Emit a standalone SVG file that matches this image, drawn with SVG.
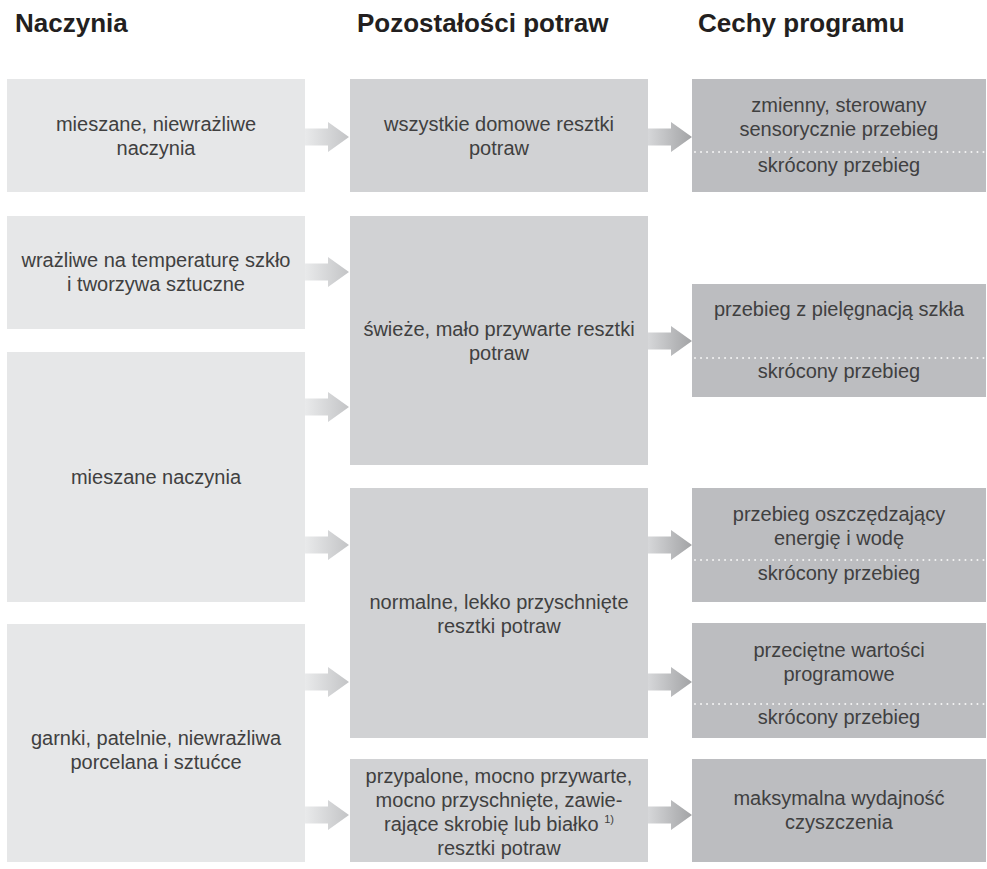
<svg xmlns="http://www.w3.org/2000/svg" width="987" height="869" viewBox="0 0 987 869">
<defs>
<style>
.h{font-family:"Liberation Sans",Arial,sans-serif;font-size:26px;font-weight:bold;fill:#231f20}
.t{font-family:"Liberation Sans",Arial,sans-serif;font-size:20px;fill:#404040;text-anchor:middle}
.sup{font-size:11px}
.bl{fill:#e6e7e8}
.bm{fill:#d1d2d4}
.br{fill:#bcbdc0}
.dot{stroke:#f4f4f4;stroke-width:2;stroke-linecap:round;stroke-dasharray:0.01 6;fill:none}
.al{fill:url(#gL)}
.am{fill:url(#gM)}
</style>
<linearGradient id="gL" x1="0" y1="0" x2="1" y2="0">
<stop offset="0" stop-color="#e9eaeb"/>
<stop offset="1" stop-color="#c3c4c6"/>
</linearGradient>
<linearGradient id="gM" x1="0" y1="0" x2="1" y2="0">
<stop offset="0" stop-color="#d6d7d9"/>
<stop offset="1" stop-color="#a2a3a5"/>
</linearGradient>
<path id="arr" d="M0 -8.5 H23 V-15 L44 0 L23 15 V8.5 H0 Z"/>
</defs>
<rect width="987" height="869" fill="#ffffff"/>

<g id="headers">
<text class="h" x="15" y="32">Naczynia</text>
<text class="h" x="357" y="32">Pozostałości potraw</text>
<text class="h" x="698" y="32">Cechy programu</text>
</g>

<g id="L1"><rect class="bl" x="7" y="79" width="298" height="113"/>
<text class="t" x="156" y="131">mieszane, niewrażliwe</text>
<text class="t" x="156" y="155">naczynia</text></g>

<g id="L2"><rect class="bl" x="7" y="216" width="298" height="113"/>
<text class="t" x="156" y="267">wrażliwe na temperaturę szkło</text>
<text class="t" x="156" y="291">i tworzywa sztuczne</text></g>

<g id="L3"><rect class="bl" x="7" y="352" width="298" height="250"/>
<text class="t" x="156" y="484">mieszane naczynia</text></g>

<g id="L4"><rect class="bl" x="7" y="624" width="298" height="238"/>
<text class="t" x="156" y="745">garnki, patelnie, niewrażliwa</text>
<text class="t" x="156" y="769">porcelana i sztućce</text></g>

<g id="M1"><rect class="bm" x="350" y="79" width="298" height="113"/>
<text class="t" x="499" y="131">wszystkie domowe resztki</text>
<text class="t" x="499" y="155">potraw</text></g>

<g id="M2"><rect class="bm" x="350" y="216" width="298" height="249"/>
<text class="t" x="499" y="336">świeże, mało przywarte resztki</text>
<text class="t" x="499" y="360">potraw</text></g>

<g id="M3"><rect class="bm" x="350" y="488" width="298" height="250"/>
<text class="t" x="499" y="609">normalne, lekko przyschnięte</text>
<text class="t" x="499" y="633">resztki potraw</text></g>

<g id="M4"><rect class="bm" x="350" y="759" width="298" height="103"/>
<text class="t" x="499" y="783">przypalone, mocno przywarte,</text>
<text class="t" x="499" y="807">mocno przyschnięte, zawie-</text>
<text class="t" x="499" y="831">rające skrobię lub białko <tspan class="sup" dy="-8">1)</tspan></text>
<text class="t" x="499" y="855">resztki potraw</text></g>

<g id="R1"><rect class="br" x="692" y="79" width="294" height="113"/>
<text class="t" x="839" y="112">zmienny, sterowany</text>
<text class="t" x="839" y="136">sensorycznie przebieg</text>
<line class="dot" x1="695" y1="152" x2="986" y2="152"/>
<text class="t" x="839" y="172">skrócony przebieg</text></g>

<g id="R2"><rect class="br" x="692" y="284" width="294" height="113"/>
<text class="t" x="839" y="316">przebieg z pielęgnacją szkła</text>
<line class="dot" x1="695" y1="358" x2="986" y2="358"/>
<text class="t" x="839" y="378">skrócony przebieg</text></g>

<g id="R3"><rect class="br" x="692" y="488" width="294" height="114"/>
<text class="t" x="839" y="521">przebieg oszczędzający</text>
<text class="t" x="839" y="545">energię i wodę</text>
<line class="dot" x1="695" y1="560" x2="986" y2="560"/>
<text class="t" x="839" y="580">skrócony przebieg</text></g>

<g id="R4"><rect class="br" x="692" y="623" width="294" height="115"/>
<text class="t" x="839" y="657">przeciętne wartości</text>
<text class="t" x="839" y="681">programowe</text>
<line class="dot" x1="695" y1="704" x2="986" y2="704"/>
<text class="t" x="839" y="724">skrócony przebieg</text></g>

<g id="R5"><rect class="br" x="692" y="759" width="294" height="103"/>
<text class="t" x="839" y="805">maksymalna wydajność</text>
<text class="t" x="839" y="829">czyszczenia</text></g>

<g id="connectors">
<use href="#arr" class="al" transform="translate(305,137)"/>
<use href="#arr" class="al" transform="translate(305,272)"/>
<use href="#arr" class="al" transform="translate(305,407)"/>
<use href="#arr" class="al" transform="translate(305,545)"/>
<use href="#arr" class="al" transform="translate(305,682)"/>
<use href="#arr" class="al" transform="translate(305,815)"/>
<use href="#arr" class="am" transform="translate(648,137)"/>
<use href="#arr" class="am" transform="translate(648,341)"/>
<use href="#arr" class="am" transform="translate(648,545)"/>
<use href="#arr" class="am" transform="translate(648,682)"/>
<use href="#arr" class="am" transform="translate(648,815)"/>
</g>
</svg>
